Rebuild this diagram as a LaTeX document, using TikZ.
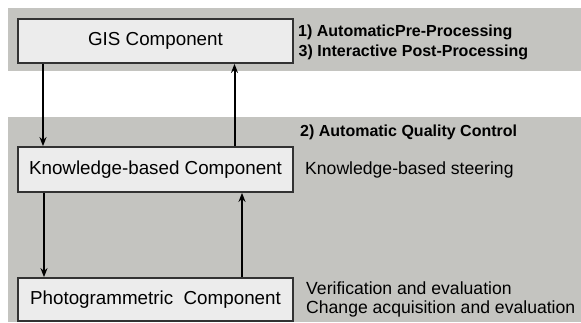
\documentclass[tikz,border=0pt]{standalone}
\usepackage{fontspec}
\setmainfont{Liberation Sans}
\usetikzlibrary{arrows.meta,positioning}
\definecolor{bandgray}{RGB}{196,196,192}
\definecolor{boxgray}{RGB}{236,236,236}
\definecolor{edgegray}{RGB}{50,50,50}

\begin{document}
\begin{tikzpicture}[x=1pt,y=-1pt,
    comp/.style={draw=edgegray,line width=1.8pt,fill=boxgray,minimum width=275pt,
      minimum height=44pt,inner sep=0pt,font=\fontsize{18.8}{20}\selectfont},
    note/.style={anchor=west,inner sep=0pt,font=\fontsize{17.6}{20}\selectfont},
    head/.style={anchor=west,inner sep=0pt,font=\fontsize{16}{18}\selectfont\bfseries},
    arr/.style={line width=2pt,-{Stealth[length=9pt,width=7pt]}}]
\useasboundingbox (0,0) rectangle (581,322);
% shaded bands
\fill[bandgray] (7.5,8) rectangle (581,71);
\fill[bandgray] (7.5,117) rectangle (581,322);
% components
\node [comp] (gis) at (155.5,41) {GIS Component};
\node [comp,minimum height=45pt] (know) at (155.5,169.5) {Knowledge-based Component};
\node [comp,minimum height=43pt] (photo) at (155.5,299.5) {Photogrammetric\ \ Component};
% flows
\draw[arr] ([xshift=-112.5pt]gis.south) -- ([xshift=-112.5pt]know.north);
\draw[arr] ([xshift=79pt]know.north) -- ([xshift=79pt]gis.south);
\draw[arr] ([xshift=-111.5pt]know.south) -- ([xshift=-111.5pt]photo.north);
\draw[arr] ([xshift=86.5pt]photo.north) -- ([xshift=86.5pt]know.south);
% labels
\node [head] (pre) at (298,32) {1) AutomaticPre-Processing};
\node [head] (post) at (298.5,52) {3) Interactive Post-Processing};
\node [head] (qc) at (300,132) {2) Automatic Quality Control};
\node [note] (steer) at (305,170) {Knowledge-based steering};
\node [note] (verif) at (306,288) {Verification and evaluation};
\node [note] (change) at (306,309) {Change acquisition and evaluation};
\end{tikzpicture}
\end{document}
